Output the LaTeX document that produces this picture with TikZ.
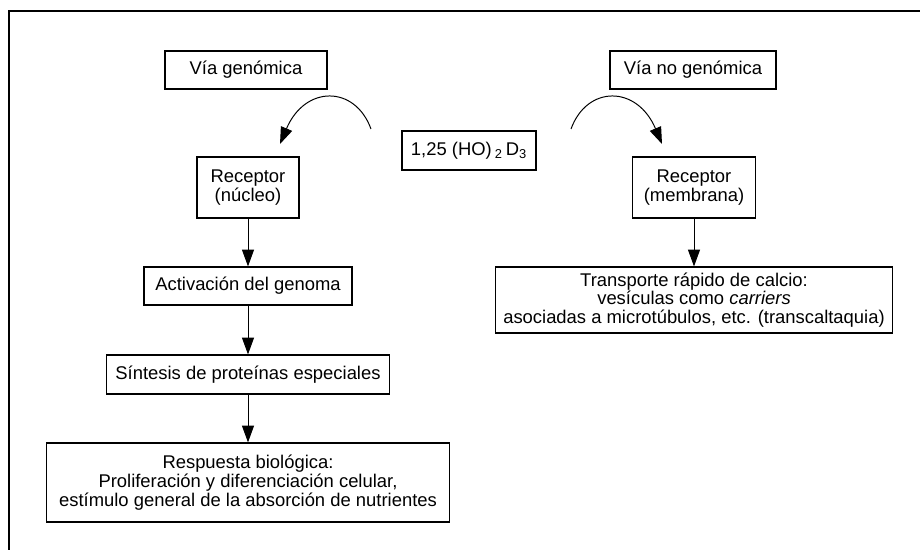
\documentclass[tikz,border=0pt]{standalone}
\usepackage{fontspec}
\setmainfont{Liberation Sans}
\usepackage{tikz}
\usetikzlibrary{arrows.meta}

\begin{document}
\begin{tikzpicture}[
  caja/.style={draw, line width=0.8pt, align=center, inner sep=2pt,
    font=\fontsize{13.1}{13.4}\selectfont},
  flecha/.style={line width=0.7pt, -{Triangle[length=0.42cm,width=0.3cm]}}
]
\useasboundingbox (0,0) rectangle (23,-13.75);
% marco exterior
\draw[line width=0.8pt] (0.225,-13.75) -- (0.225,-0.275) -- (23,-0.275);

\node [caja, minimum width=4.05cm, minimum height=0.95cm] (VG) at (6.15,-1.75) {Vía genómica};
\node [caja, minimum width=4.15cm, minimum height=0.95cm] (VNG) at (17.325,-1.75) {Vía no genómica};
\node [caja, minimum width=3.35cm, minimum height=0.975cm] (D) at (11.725,-3.7625) {1,25 (HO)\,\textsubscript{2}\,D\textsubscript{3}};

%via genomica
\node [caja, minimum width=2.55cm, minimum height=1.525cm] (RN) at (6.2,-4.6875) {Receptor\\(núcleo)};
\node [caja, minimum width=5.2cm, minimum height=0.95cm] (A) at (6.2,-7.15) {Activación del genoma};
\node [caja, minimum width=7.075cm, minimum height=0.975cm] (S) at (6.2,-9.3625) {Síntesis de proteínas especiales};
\node [caja, minimum width=10.075cm, minimum height=1.975cm] (R) at (6.2,-12.0625) {Respuesta biológica:\\Proliferación y diferenciación celular,\\estímulo general de la absorción de nutrientes};

%via no genomica
\node [caja, minimum width=3.075cm, minimum height=1.525cm] (RM) at (17.35,-4.6875) {Receptor\\(membrana)};
\node [caja, minimum width=9.925cm, minimum height=1.65cm] (T) at (17.35,-7.5) {Transporte rápido de calcio:\\vesículas como \textit{carriers}\\asociadas a microtúbulos, etc. (transcaltaquia)};

\draw[flecha] (RN) -- (A);
\draw[flecha] (A) -- (S);
\draw[flecha] (S) -- (R);
\draw[flecha] (RM) -- (T);

%flechas curvas
\coordinate (L1) at (9.275,-3.225);
\coordinate (L2) at (7.0,-3.6);
\coordinate (M1) at (14.275,-3.225);
\coordinate (M2) at (16.55,-3.6);
\draw[flecha] (L1) .. controls (8.875,-2.125) and (7.625,-2.125) .. (L2);
\draw[flecha] (M1) .. controls (14.675,-2.125) and (15.925,-2.125) .. (M2);

\end{tikzpicture}
\end{document}
